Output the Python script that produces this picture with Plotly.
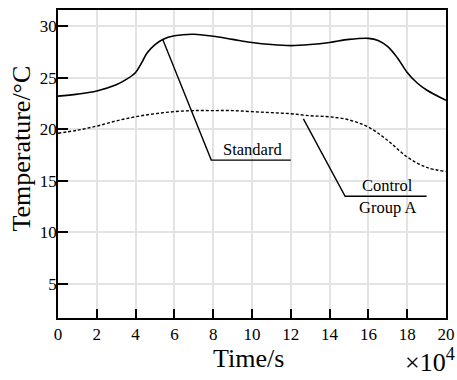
import plotly.graph_objects as go

# Data (time in units of 1e4 s, temperature in °C)
std_x = [0, 1, 2, 3, 3.5, 4, 4.3, 4.6, 5, 5.4, 6, 7, 8, 9, 10, 11, 12, 13, 14, 15, 16, 16.5, 17, 17.5, 18, 18.5, 19, 20]
std_y = [23.2, 23.4, 23.7, 24.3, 24.8, 25.5, 26.4, 27.4, 28.2, 28.7, 29.05, 29.2, 29.0, 28.7, 28.4, 28.2, 28.1, 28.2, 28.4, 28.7, 28.8, 28.6, 28.0, 26.9, 25.5, 24.5, 23.8, 22.8]

ctl_x = [0, 1, 2, 3, 4, 5, 6, 7, 8, 9, 10, 11, 12, 13, 14, 15, 16, 17, 18, 19, 20]
ctl_y = [19.6, 19.9, 20.3, 20.8, 21.2, 21.5, 21.7, 21.8, 21.8, 21.8, 21.7, 21.6, 21.5, 21.3, 21.2, 20.9, 20.2, 18.9, 17.3, 16.3, 15.9]

x_ticks = [0, 2, 4, 6, 8, 10, 12, 14, 16, 18, 20]
y_ticks = [5, 10, 15, 20, 25, 30]

# Leader lines for labels (data coordinates)
std_leader_x = [5.4, 7.9, 12.0]
std_leader_y = [28.7, 17.0, 17.0]
ctl_leader_x = [12.65, 14.8, 19.0]
ctl_leader_y = [21.0, 13.5, 13.5]

FONT = "Liberation Serif"

fig = go.Figure()
fig.add_trace(go.Scatter(x=std_x, y=std_y, mode="lines", line=dict(color="black", width=1.6, shape="spline"), hoverinfo="skip"))
fig.add_trace(go.Scatter(x=ctl_x, y=ctl_y, mode="lines", line=dict(color="black", width=1.4, dash="3px,2px", shape="spline"), hoverinfo="skip"))
fig.add_trace(go.Scatter(x=std_leader_x, y=std_leader_y, mode="lines", line=dict(color="black", width=1.4), hoverinfo="skip"))
fig.add_trace(go.Scatter(x=ctl_leader_x, y=ctl_leader_y, mode="lines", line=dict(color="black", width=1.4), hoverinfo="skip"))

fig.add_annotation(x=10.0, y=std_leader_y[1], text="Standard", showarrow=False, yanchor="bottom", yshift=-1,
                   font=dict(family=FONT, size=16.5, color="black"))
fig.add_annotation(x=17.0, y=ctl_leader_y[1], text="Control", showarrow=False, yanchor="bottom", yshift=-1,
                   font=dict(family=FONT, size=16.5, color="black"))
fig.add_annotation(x=17.0, y=ctl_leader_y[1], text="Group A", showarrow=False, yanchor="top", yshift=0,
                   font=dict(family=FONT, size=16.5, color="black"))

# Axis titles
fig.add_annotation(x=0.49, y=0, xref="paper", yref="paper", xanchor="center", yanchor="middle", yshift=-40,
                   text="Time/s", showarrow=False, font=dict(family=FONT, size=26, color="black"))
fig.add_annotation(x=0, y=0.55, xref="paper", yref="paper", xanchor="center", yanchor="middle", xshift=-36,
                   textangle=-90, text="Temperature/°C", showarrow=False, font=dict(family=FONT, size=26, color="black"))
fig.add_annotation(x=1.0, y=0, xref="paper", yref="paper", xanchor="right", yanchor="middle", yshift=-42, xshift=11,
                   text="×10<sup>4</sup>", showarrow=False, font=dict(family=FONT, size=26, color="black"))

fig.update_layout(
    width=457, height=380,
    margin=dict(l=58, r=11, t=10, b=62),
    paper_bgcolor="white", plot_bgcolor="white",
    showlegend=False,
    font=dict(family=FONT, color="black"),
)
fig.update_xaxes(range=[0, 20], tickvals=x_ticks, ticks="inside", ticklen=9, tickwidth=1.5, tickcolor="black",
                 showline=True, linecolor="black", linewidth=1.6, mirror=True, automargin=False,
                 showgrid=True, gridcolor="#e3e3e3", gridwidth=1.8, zeroline=False,
                 tickfont=dict(family=FONT, size=17, color="black"))
fig.update_yaxes(range=[1.7, 31.55], tickvals=y_ticks, ticks="inside", ticklen=10, tickwidth=1.5, tickcolor="black",
                 showline=True, linecolor="black", linewidth=1.6, mirror=True, automargin=False,
                 showgrid=True, gridcolor="#e3e3e3", gridwidth=1.8, zeroline=False, ticklabelstandoff=-4,
                 tickfont=dict(family=FONT, size=17, color="black"))

fig.write_html("out.html", config={"displayModeBar": False},
               post_script="document.body.style.margin='0';document.body.style.overflow='hidden';")
